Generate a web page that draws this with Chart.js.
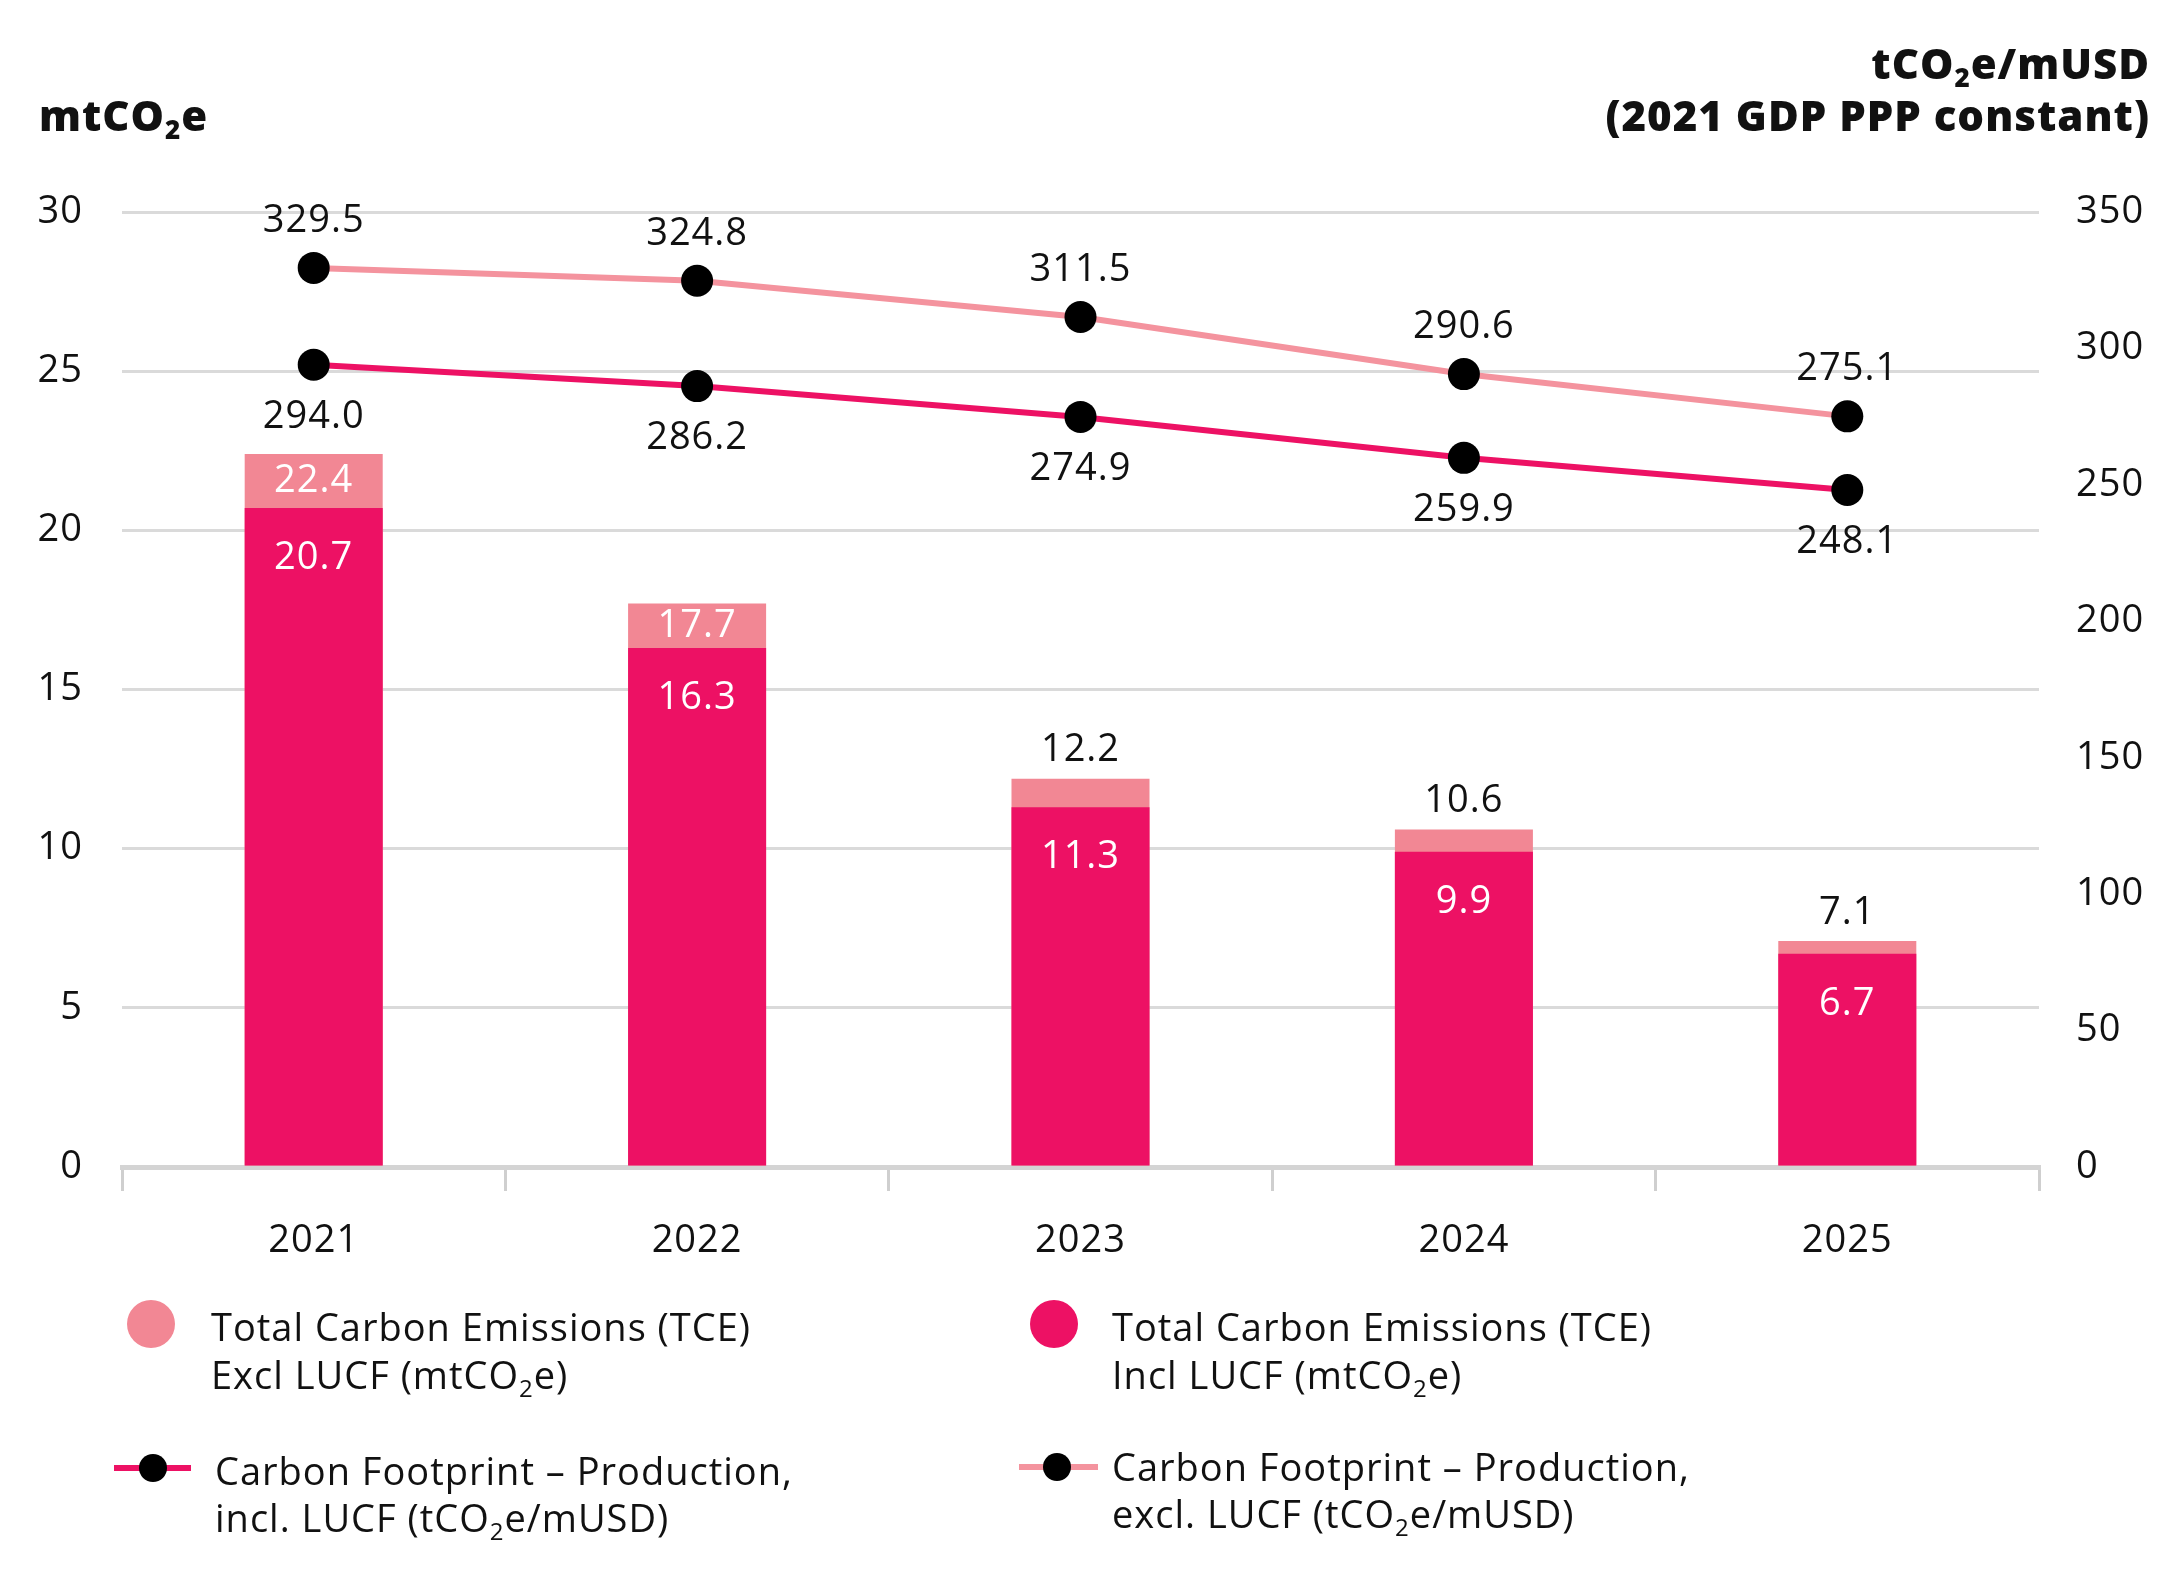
<!DOCTYPE html>
<html>
<head>
<meta charset="utf-8">
<script src="https://cdn.jsdelivr.net/npm/chart.js@4.4.1/dist/chart.umd.min.js"></script>
<style>
  html, body { margin: 0; padding: 0; background: #ffffff; }
  #wrap { width: 2175px; height: 1580px; position: relative; }
  canvas { display: block; }
</style>
</head>
<body>
<div id="wrap"><canvas id="c" width="2175" height="1580"></canvas></div>
<script>
// ---------------- DATA ----------------
const years = ["2021", "2022", "2023", "2024", "2025"];
const tceInclLUCF = [20.7, 16.3, 11.3, 9.9, 6.7];      // mtCO2e
const tceExclLUCF = [22.4, 17.7, 12.2, 10.6, 7.1];     // mtCO2e
const cfpExclLUCF = [329.5, 324.8, 311.5, 290.6, 275.1]; // tCO2e/mUSD
const cfpInclLUCF = [294.0, 286.2, 274.9, 259.9, 248.1]; // tCO2e/mUSD
const leftTicks = { min: 0, max: 30, step: 5 };
const rightTicks = { min: 0, max: 350, step: 50 };
const leftTitle = "mtCO₂e";
const rightTitle = ["tCO₂e/mUSD", "(2021 GDP PPP constant)"];
const legendLabels = [
  ["Total Carbon Emissions (TCE)", "Excl LUCF (mtCO₂e)"],
  ["Total Carbon Emissions (TCE)", "Incl LUCF (mtCO₂e)"],
  ["Carbon Footprint – Production,", "incl. LUCF (tCO₂e/mUSD)"],
  ["Carbon Footprint – Production,", "excl. LUCF (tCO₂e/mUSD)"]
];

// ---------------- STYLE ----------------
const DARK = "#ED1164";
const LIGHT = "#F28794";
const LIGHT_LINE = "#F4939E";
const FONT = "'Open Sans'";
const TXT = "#111111";
const SPACING = "1px";

function drawRich(ctx, str, x, y, size, weight, align) {
  const parts = str.split("₂");
  const subSize = Math.round(size * 0.62);
  const segs = [];
  parts.forEach((p, i) => {
    if (p) segs.push({ t: p, sub: false });
    if (i < parts.length - 1) segs.push({ t: "2", sub: true });
  });
  let total = 0;
  segs.forEach(s => {
    ctx.font = `${weight} ${s.sub ? subSize : size}px ${FONT}`;
    s.w = ctx.measureText(s.t).width;
    total += s.w;
  });
  let cx = align === "right" ? x - total : (align === "center" ? x - total / 2 : x);
  ctx.textAlign = "left";
  ctx.textBaseline = "alphabetic";
  segs.forEach(s => {
    ctx.font = `${weight} ${s.sub ? subSize : size}px ${FONT}`;
    ctx.fillText(s.t, cx, s.sub ? y + size * 0.2 : y);
    cx += s.w;
  });
}

const labelPlugin = {
  id: "labels",
  beforeLayout(chart) { chart.ctx.letterSpacing = SPACING; },
  beforeDraw(chart) { chart.ctx.letterSpacing = SPACING; },
  afterDatasetsDraw(chart) {
    const ctx = chart.ctx;
    ctx.save();
    ctx.letterSpacing = SPACING;
    ctx.font = `500 38px ${FONT}`;
    ctx.textAlign = "center";
    ctx.textBaseline = "middle";
    const mIncl = chart.getDatasetMeta(1);
    const mTot = chart.getDatasetMeta(2);
    for (let i = 0; i < years.length; i++) {
      const bi = mIncl.data[i], bt = mTot.data[i];
      ctx.fillStyle = "#ffffff";
      ctx.fillText(tceInclLUCF[i].toFixed(1), bi.x, bi.y + 50);
      const seg = bi.y - bt.y;
      if (seg > 40) {
        ctx.fillStyle = "#ffffff";
        ctx.fillText(tceExclLUCF[i].toFixed(1), bt.x, (bi.y + bt.y) / 2);
      } else {
        ctx.fillStyle = TXT;
        ctx.fillText(tceExclLUCF[i].toFixed(1), bt.x, bt.y - 28);
      }
    }
    const mEx = chart.getDatasetMeta(0);
    const mIn = chart.getDatasetMeta(3);
    ctx.fillStyle = TXT;
    for (let i = 0; i < years.length; i++) {
      const pe = mEx.data[i], pi = mIn.data[i];
      ctx.fillText(cfpExclLUCF[i].toFixed(1), pe.x, pe.y - 47);
      ctx.fillText(cfpInclLUCF[i].toFixed(1), pi.x, pi.y + 52);
    }
    ctx.restore();
  },
  afterDraw(chart) {
    const ctx = chart.ctx;
    ctx.save();
    ctx.letterSpacing = SPACING;
    ctx.fillStyle = TXT;
    // axis titles
    drawRich(ctx, leftTitle, 39, 131, 42, "800", "left");
    drawRich(ctx, rightTitle[0], 2150, 79, 42, "800", "right");
    drawRich(ctx, rightTitle[1], 2150, 131, 42, "800", "right");
    // legend
    const LS = 38;
    // item 1: light bar
    ctx.fillStyle = LIGHT;
    ctx.beginPath(); ctx.arc(151, 1324, 24, 0, Math.PI * 2); ctx.fill();
    ctx.fillStyle = TXT;
    drawRich(ctx, legendLabels[0][0], 211, 1341, LS, "500", "left");
    drawRich(ctx, legendLabels[0][1], 211, 1389, LS, "500", "left");
    // item 2: dark bar
    ctx.fillStyle = DARK;
    ctx.beginPath(); ctx.arc(1054, 1324, 24, 0, Math.PI * 2); ctx.fill();
    ctx.fillStyle = TXT;
    drawRich(ctx, legendLabels[1][0], 1112, 1341, LS, "500", "left");
    drawRich(ctx, legendLabels[1][1], 1112, 1389, LS, "500", "left");
    // item 3: dark line
    ctx.strokeStyle = DARK; ctx.lineWidth = 6;
    ctx.beginPath(); ctx.moveTo(114, 1468); ctx.lineTo(191, 1468); ctx.stroke();
    ctx.fillStyle = "#000";
    ctx.beginPath(); ctx.arc(153, 1468, 14, 0, Math.PI * 2); ctx.fill();
    ctx.fillStyle = TXT;
    drawRich(ctx, legendLabels[2][0], 215, 1485, LS, "500", "left");
    drawRich(ctx, legendLabels[2][1], 215, 1532, LS, "500", "left");
    // item 4: light line
    ctx.strokeStyle = LIGHT_LINE; ctx.lineWidth = 6;
    ctx.beginPath(); ctx.moveTo(1019, 1467); ctx.lineTo(1098, 1467); ctx.stroke();
    ctx.fillStyle = "#000";
    ctx.beginPath(); ctx.arc(1057, 1467, 14, 0, Math.PI * 2); ctx.fill();
    ctx.fillStyle = TXT;
    drawRich(ctx, legendLabels[3][0], 1112, 1481, LS, "500", "left");
    drawRich(ctx, legendLabels[3][1], 1112, 1528, LS, "500", "left");
    ctx.restore();
  }
};

const tickFont = { family: "Open Sans", size: 38, weight: "500" };

new Chart(document.getElementById("c"), {
  data: {
    labels: years,
    datasets: [
      {
        type: "line", label: "Carbon Footprint – Production, excl. LUCF",
        data: cfpExclLUCF, yAxisID: "y1", order: 0,
        borderColor: LIGHT_LINE, borderWidth: 6, tension: 0,
        pointRadius: 16, pointHoverRadius: 16, pointBackgroundColor: "#000", pointBorderWidth: 0
      },
      {
        type: "bar", label: "TCE Incl LUCF", data: tceInclLUCF, yAxisID: "y",
        backgroundColor: DARK, grouped: false, order: 1,
        barPercentage: 0.36, categoryPercentage: 1
      },
      {
        type: "bar", label: "TCE Excl LUCF", data: tceExclLUCF, yAxisID: "y",
        backgroundColor: LIGHT, grouped: false, order: 2,
        barPercentage: 0.36, categoryPercentage: 1
      },
      {
        type: "line", label: "Carbon Footprint – Production, incl. LUCF",
        data: cfpInclLUCF, yAxisID: "y1", order: 0,
        borderColor: DARK, borderWidth: 6, tension: 0,
        pointRadius: 16, pointHoverRadius: 16, pointBackgroundColor: "#000", pointBorderWidth: 0
      }
    ]
  },
  options: {
    responsive: false,
    animation: false,
    layout: { padding: { top: 212, left: 0, right: 0, bottom: 0 } },
    plugins: { legend: { display: false }, tooltip: { enabled: false } },
    scales: {
      x: {
        offset: true,
        grid: { offset: true, drawOnChartArea: false, drawTicks: true, tickLength: 24, color: "#cfcfcf", lineWidth: 3 },
        border: { display: true, color: "#d4d4d4", width: 5 },
        ticks: { font: tickFont, color: TXT, padding: 27 },
        afterFit: s => { s.height = 413; }
      },
      y: {
        position: "left", min: leftTicks.min, max: leftTicks.max,
        ticks: { stepSize: leftTicks.step, font: tickFont, color: TXT, padding: 39 },
        grid: { color: "#dadada", lineWidth: 3, drawTicks: false },
        border: { display: false },
        afterFit: s => { s.width = 122; }
      },
      y1: {
        position: "right", min: rightTicks.min, max: rightTicks.max,
        ticks: { stepSize: rightTicks.step, font: tickFont, color: TXT, padding: 37 },
        grid: { display: false, drawTicks: false },
        border: { display: false },
        afterFit: s => { s.width = 136; }
      }
    }
  },
  plugins: [labelPlugin]
});
</script>
</body>
</html>
